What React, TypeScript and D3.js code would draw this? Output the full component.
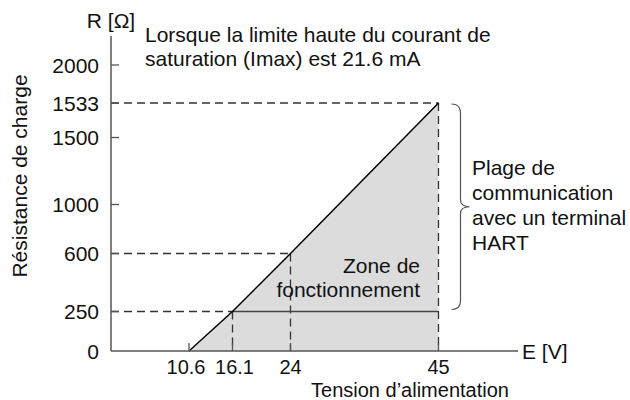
import * as d3 from "d3";

// values
const yTicks = [0, 250, 600, 1000, 1500, 1533, 2000];
const xTicks = [10.6, 16.1, 24, 45];
const loadE = [10.6, 16.1, 24, 45];
const loadR = [0, 250, 600, 1533];
const hartMinR = 250;
const xAxisEnd = 55;

const noteLines = ["Lorsque la limite haute du courant de", "saturation (Imax) est 21.6 mA"];
const zoneLines = ["Zone de", "fonctionnement"];
const hartLines = ["Plage de", "communication", "avec un terminal", "HART"];

const W = 630;
const H = 400;
const FONT = "'Liberation Sans', Arial, Helvetica, sans-serif";
const FS = 21;

const App = () => {
  // the diagram is schematic: axes are piecewise, not proportional
  const x = d3
    .scaleLinear()
    .domain([0, 10.6, 16.1, 24, 45, xAxisEnd])
    .range([111, 189, 232.5, 290.5, 438.5, 518]);
  const y = d3
    .scaleLinear()
    .domain(yTicks)
    .range([351, 311.5, 253.5, 204.5, 137.5, 103, 65]);

  const pts = loadE.map((e, i) => ({ e, r: loadR[i] }));
  const last = pts[pts.length - 1];

  const line = d3
    .line<{ e: number; r: number }>()
    .x((d) => x(d.e))
    .y((d) => y(d.r));

  const area = [...pts, { e: last.e, r: 0 }];

  const x0 = x(0);
  const y0 = y(0);

  // brace
  const bTop = y(last.r) + 1;
  const bBot = y(hartMinR) - 2;
  const bMid = (bTop + bBot) / 2;
  const bx = x(last.e) + 13;
  const brace = `M${bx},${bTop} Q${bx + 9},${bTop} ${bx + 9},${bTop + 9} L${bx + 9},${bMid - 7} Q${bx + 9},${bMid} ${bx + 18},${bMid} Q${bx + 9},${bMid} ${bx + 9},${bMid + 7} L${bx + 9},${bBot - 9} Q${bx + 9},${bBot} ${bx},${bBot}`;

  const dash = "8,5";
  const guideColor = "#333";

  return (
    <svg
      width={W}
      height={H}
      style={{ position: "absolute", left: 0, top: 0, background: "#fff" }}
      fontFamily={FONT}
      fontSize={FS}
    >
      {/* operating zone */}
      <path d={(line(area) ?? "") + "Z"} fill="#dcdcdc" stroke="none" />

      {/* dashed guides */}
      {pts
        .filter((p) => p.r > 0)
        .map((p) => (
          <g key={p.e} stroke={guideColor} strokeWidth={1.3} strokeDasharray={dash} fill="none">
            <line x1={x0} x2={x(p.e)} y1={y(p.r)} y2={y(p.r)} />
            <line x1={x(p.e)} x2={x(p.e)} y1={y(p.r)} y2={y0} />
          </g>
        ))}

      {/* HART lower limit */}
      <line
        x1={x(16.1)}
        x2={x(last.e)}
        y1={y(hartMinR)}
        y2={y(hartMinR)}
        stroke="#444"
        strokeWidth={1.3}
      />

      {/* load line */}
      <path d={line(pts) ?? ""} fill="none" stroke="#000" strokeWidth={1.5} />

      {/* axes */}
      <line x1={x0} x2={x0} y1={36} y2={y0} stroke="#555" strokeWidth={1.5} />
      <line x1={x0} x2={x(xAxisEnd)} y1={y0} y2={y0} stroke="#555" strokeWidth={1.5} />

      {yTicks.map((t) => (
        <g key={t}>
          {t > 0 && <line x1={x0} x2={x0 + 8} y1={y(t)} y2={y(t)} stroke="#555" strokeWidth={1.3} />}
          <text x={x0 - 12} y={y(t)} textAnchor="end" dominantBaseline="central" fill="#111">
            {t}
          </text>
        </g>
      ))}

      {xTicks.map((t) => (
        <g key={t}>
          <line x1={x(t)} x2={x(t)} y1={y0} y2={y0 - 8} stroke="#555" strokeWidth={1.3} />
          <text
            x={t === 10.6 ? x(t) - 3 : t === 16.1 ? x(t) + 2 : x(t)}
            y={y0 + 23}
            textAnchor="middle"
            fontSize={20}
            fill="#111"
          >
            {t}
          </text>
        </g>
      ))}

      <text x={x0} y={28} textAnchor="middle" fill="#111">
        R [Ω]
      </text>
      <text x={x(xAxisEnd) + 4} y={y0} dominantBaseline="central" fill="#111">
        E [V]
      </text>
      <text x={410} y={397} textAnchor="middle" fontSize={20} fill="#111">
        Tension d’alimentation
      </text>
      <text
        transform={`translate(27,176) rotate(-90)`}
        textAnchor="middle"
        fill="#111"
      >
        Résistance de charge
      </text>

      {noteLines.map((s, i) => (
        <text key={s} x={145} y={42 + i * 24} fill="#111">
          {s}
        </text>
      ))}

      {zoneLines.map((s, i) => (
        <text key={s} x={420} y={273 + i * 24} textAnchor="end" fill="#111">
          {s}
        </text>
      ))}

      <path d={brace} fill="none" stroke="#555" strokeWidth={1.2} />
      {hartLines.map((s, i) => (
        <text key={s} x={472} y={175 + i * 25} fill="#111">
          {s}
        </text>
      ))}
    </svg>
  );
};

export default App;
